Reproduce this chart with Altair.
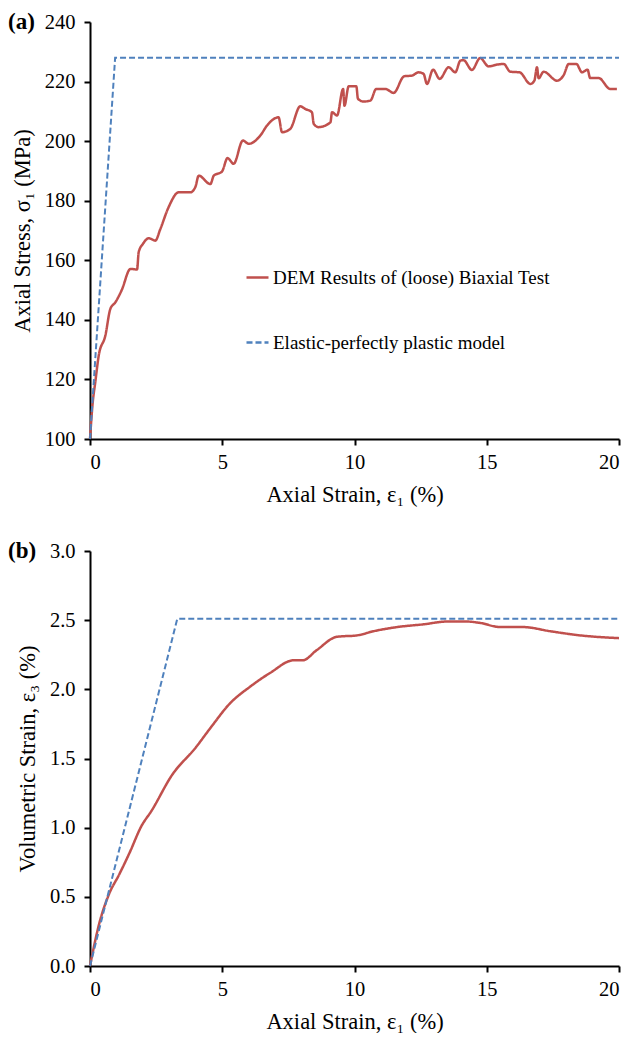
import altair as alt
import pandas as pd

SERIES_DEM = "DEM Results of (loose) Biaxial Test"
SERIES_EPP = "Elastic-perfectly plastic model"
SERIES = [SERIES_DEM, SERIES_EPP]
COLORS = ["#C0504D", "#4F81BD"]

# Panel (a): axial stress vs axial strain
a_dem_x = [0, 0.1, 0.2, 0.33, 0.58, 0.77, 0.96, 1.2, 1.53, 1.78, 1.84, 2.0, 2.22, 2.47, 2.66,
           2.97, 3.35, 3.79, 3.98, 4.11, 4.55, 4.68, 4.99, 5.2, 5.43, 5.78, 6.0, 6.44, 6.69,
           7.13, 7.26, 7.57, 7.95, 8.14, 8.39, 8.46, 8.64, 9.09, 9.15, 9.34, 9.57, 9.62, 9.78,
           10.07, 10.13, 10.35, 10.6, 10.82, 11.17, 11.48, 11.88, 12.17, 12.42, 12.61, 12.74,
           12.97, 13.22, 13.56, 13.81, 14.0, 14.12, 14.44, 14.75, 15.07, 15.39, 15.64, 15.89,
           16.24, 16.65, 16.8, 16.9, 16.96, 17.15, 17.66, 17.91, 18.1, 18.39, 18.6, 18.81,
           18.91, 19.23, 19.67, 19.92]
a_dem_y = [100, 112, 119.1, 128, 134.7, 143.7, 145.9, 150, 157.1, 156.9, 162.7, 165.5, 167.4,
           166.6, 170.5, 177.8, 182.8, 182.8, 184.5, 188.4, 185.6, 188.4, 189.8, 194.3, 192.4,
           200.2, 199.1, 201.9, 205.2, 208, 203, 204.1, 211.7, 210.8, 209.7, 205.8, 204.7,
           206.3, 209.7, 208.6, 217.5, 211.9, 218.4, 218.4, 214.2, 213.3, 213.6, 217.5, 217.5,
           216.2, 221.8, 222, 223.1, 222.6, 219.2, 224, 220.9, 224.8, 223.1, 227, 227.2, 223.9,
           227.9, 225.1, 225.7, 225.9, 223.3, 223.1, 219.2, 220.3, 224.8, 221.1, 223.3, 220.3,
           222.2, 225.9, 225.9, 223.1, 224, 221.2, 221.2, 217.5, 217.5]
a_epp_x = [0, 0.95, 20]
a_epp_y = [100, 228, 228]

# Panel (b): volumetric strain vs axial strain
b_dem_x = [0, 0.34, 0.72, 1.1, 1.5, 1.94, 2.32, 3.1, 4.0, 4.55, 5.3, 6.06, 6.82, 7.7, 8.05,
           8.55, 9.34, 10.1, 10.72, 11.61, 12.61, 13.5, 14.25, 14.75, 15.51, 16.39, 17.4,
           18.53, 20]
b_dem_y = [0, 0.3, 0.52, 0.66, 0.82, 1.01, 1.12, 1.38, 1.58, 1.72, 1.9, 2.02, 2.12, 2.21,
           2.21, 2.28, 2.38, 2.39, 2.42, 2.45, 2.47, 2.49, 2.49, 2.48, 2.45, 2.45, 2.42, 2.39,
           2.37]
b_epp_x = [0, 3.3, 20]
b_epp_y = [0, 2.51, 2.51]

x_ticks = [0, 5, 10, 15, 20]
a_y_ticks = [100, 120, 140, 160, 180, 200, 220, 240]
b_y_ticks = [0, 0.5, 1.0, 1.5, 2.0, 2.5, 3.0]

FONT = "Liberation Serif"
W = 529


def frame(xs, ys, name):
    return pd.DataFrame({"x": xs, "y": ys, "series": name})


def panel(dem, epp, ydom, yticks, ytitle, yfmt, tag, h, show_legend):
    if show_legend:
        leg = alt.Legend(
            title=None, orient="none", legendX=155, legendY=243, direction="vertical",
            symbolType="stroke", symbolSize=484, symbolStrokeWidth=2.5, labelFont=FONT,
            labelFontSize=19, labelColor="black", labelLimit=0, rowPadding=42,
            labelOffset=3, padding=0,
        )
    else:
        leg = None
    color = alt.Color("series:N", scale=alt.Scale(domain=SERIES, range=COLORS), legend=leg)
    dash = alt.StrokeDash("series:N", scale=alt.Scale(domain=SERIES, range=[[1, 0], [6, 3]]),
                          legend=leg)
    xenc = alt.X("x:Q", scale=alt.Scale(domain=[0, 20], nice=False),
                 axis=alt.Axis(values=x_ticks, title="Axial Strain, ε₁ (%)"))
    yenc = alt.Y("y:Q", scale=alt.Scale(domain=ydom, nice=False, zero=False),
                 axis=alt.Axis(values=yticks, format=yfmt, title=ytitle))
    l1 = alt.Chart(dem).mark_line(strokeWidth=2.5, interpolate="monotone").encode(
        x=xenc, y=yenc, color=color, strokeDash=dash)
    l2 = alt.Chart(epp).mark_line(strokeWidth=2).encode(
        x=xenc, y=yenc, color=color, strokeDash=dash)
    lab = alt.Chart(pd.DataFrame({"t": [tag]})).mark_text(
        font=FONT, fontSize=23, fontWeight="bold", align="left", baseline="middle",
        color="black").encode(text="t:N", x=alt.value(-82), y=alt.value(0))
    return alt.layer(l1, l2, lab).properties(width=W, height=h)


pa = panel(frame(a_dem_x, a_dem_y, SERIES_DEM), frame(a_epp_x, a_epp_y, SERIES_EPP),
           [100, 240], a_y_ticks, "Axial Stress, σ₁ (MPa)", "d", "(a)", 417, True)
pb = panel(frame(b_dem_x, b_dem_y, SERIES_DEM), frame(b_epp_x, b_epp_y, SERIES_EPP),
           [0, 3], b_y_ticks, "Volumetric Strain, ε₃ (%)", ".1f", "(b)", 415, False)

chart = alt.vconcat(pa, pb, spacing=34).resolve_scale(
    color="independent", strokeDash="independent"
).properties(
    padding={"left": 0, "top": 3, "right": 0, "bottom": 0}
).configure_view(stroke=None).configure_axis(
    grid=False, domainColor="black", domainWidth=2, tickColor="black", tickWidth=2,
    tickSize=6, labelFont=FONT, labelFontSize=20.5, labelColor="black",
    titleFont=FONT, titleFontSize=22.5, titleFontWeight="normal", titleColor="black",
).configure_axisX(labelPadding=7, titlePadding=11).configure_axisY(
    labelPadding=9, titlePadding=10)

chart.save("out.html", embed_options={"renderer": "svg", "actions": False})
